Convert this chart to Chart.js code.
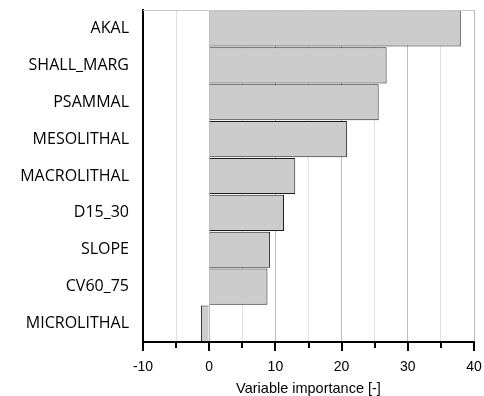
<!DOCTYPE html>
<html>
<head>
<meta charset="utf-8">
<script src="https://cdn.jsdelivr.net/npm/chart.js@4"></script>
<style>
    html, body { margin: 0; padding: 0; background: #fff; }
    #wrap { width: 484px; height: 396px; }
</style>
</head>
<body>
<div id="wrap"><canvas id="chart" width="484" height="396"></canvas></div>
<script>
const categories = ['AKAL', 'SHALL_MARG', 'PSAMMAL', 'MESOLITHAL', 'MACROLITHAL', 'D15_30', 'SLOPE', 'CV60_75', 'MICROLITHAL'];
const importance = [38, 26.8, 25.6, 20.8, 13.0, 11.3, 9.2, 8.8, -1.25];
const xMin = -10;
const xMax = 40;
const axisTitle = 'Variable importance [-]';

// tick marks below the x axis + light frame line on top
const frame = {
    id: 'frame',
    afterDraw(chart) {
        const ctx = chart.ctx;
        const area = chart.chartArea;
        const x = chart.scales.x;
        ctx.save();
        ctx.strokeStyle = '#c8c8c8';
        ctx.lineWidth = 1;
        ctx.beginPath();
        ctx.moveTo(area.left, area.top + 0.5);
        ctx.lineTo(area.right, area.top + 0.5);
        ctx.stroke();

        ctx.strokeStyle = '#000';
        ctx.lineWidth = 2;
        x.ticks.forEach(t => {
            const px = Math.round(x.getPixelForValue(t.value));
            const len = t.value % 10 === 0 ? 9 : 6;
            ctx.beginPath();
            ctx.moveTo(px, area.bottom);
            ctx.lineTo(px, area.bottom + len);
            ctx.stroke();
        });
        ctx.restore();
    }
};

// keep the plot area where the reference has it
function noPadding(s) {
    s.paddingLeft = 0;
    s.paddingRight = 0;
    s.paddingTop = 0;
    s.paddingBottom = 0;
}

new Chart(document.getElementById('chart'), {
    type: 'bar',
    data: {
        labels: categories,
        datasets: [{
            data: importance,
            backgroundColor: '#cccccc',
            borderColor: '#1e1e1e',
            borderWidth: 1,
            barPercentage: 0.98,
            categoryPercentage: 1
        }]
    },
    options: {
        indexAxis: 'y',
        responsive: false,
        animation: false,
        layout: { padding: { top: 10, right: 10, left: 0, bottom: 0 } },
        plugins: {
            legend: { display: false },
            tooltip: { enabled: false }
        },
        scales: {
            x: {
                min: xMin,
                max: xMax,
                afterFit: s => { s.height = 54; noPadding(s); },
                ticks: {
                    stepSize: 5,
                    maxRotation: 0,
                    padding: 17,
                    color: '#000',
                    font: { family: 'Liberation Sans', size: 14 },
                    callback: v => (v % 10 === 0 ? v : '')
                },
                grid: {
                    drawTicks: false,
                    color: c => (c.tick && c.tick.value % 10 === 0 ? '#bdbdbd' : '#e2e2e2'),
                    lineWidth: 1
                },
                border: { color: '#000', width: 2 },
                title: {
                    display: true,
                    text: axisTitle,
                    color: '#000',
                    font: { family: 'Liberation Sans', size: 14.5 },
                    padding: { top: 0, bottom: -2 }
                }
            },
            y: {
                afterFit: s => { s.width = 143; noPadding(s); },
                ticks: {
                    padding: 14,
                    color: '#000',
                    font: { family: 'Open Sans', size: 16 }
                },
                grid: { display: false, drawTicks: false },
                border: { color: '#000', width: 2 }
            }
        }
    },
    plugins: [frame]
});
</script>
</body>
</html>
